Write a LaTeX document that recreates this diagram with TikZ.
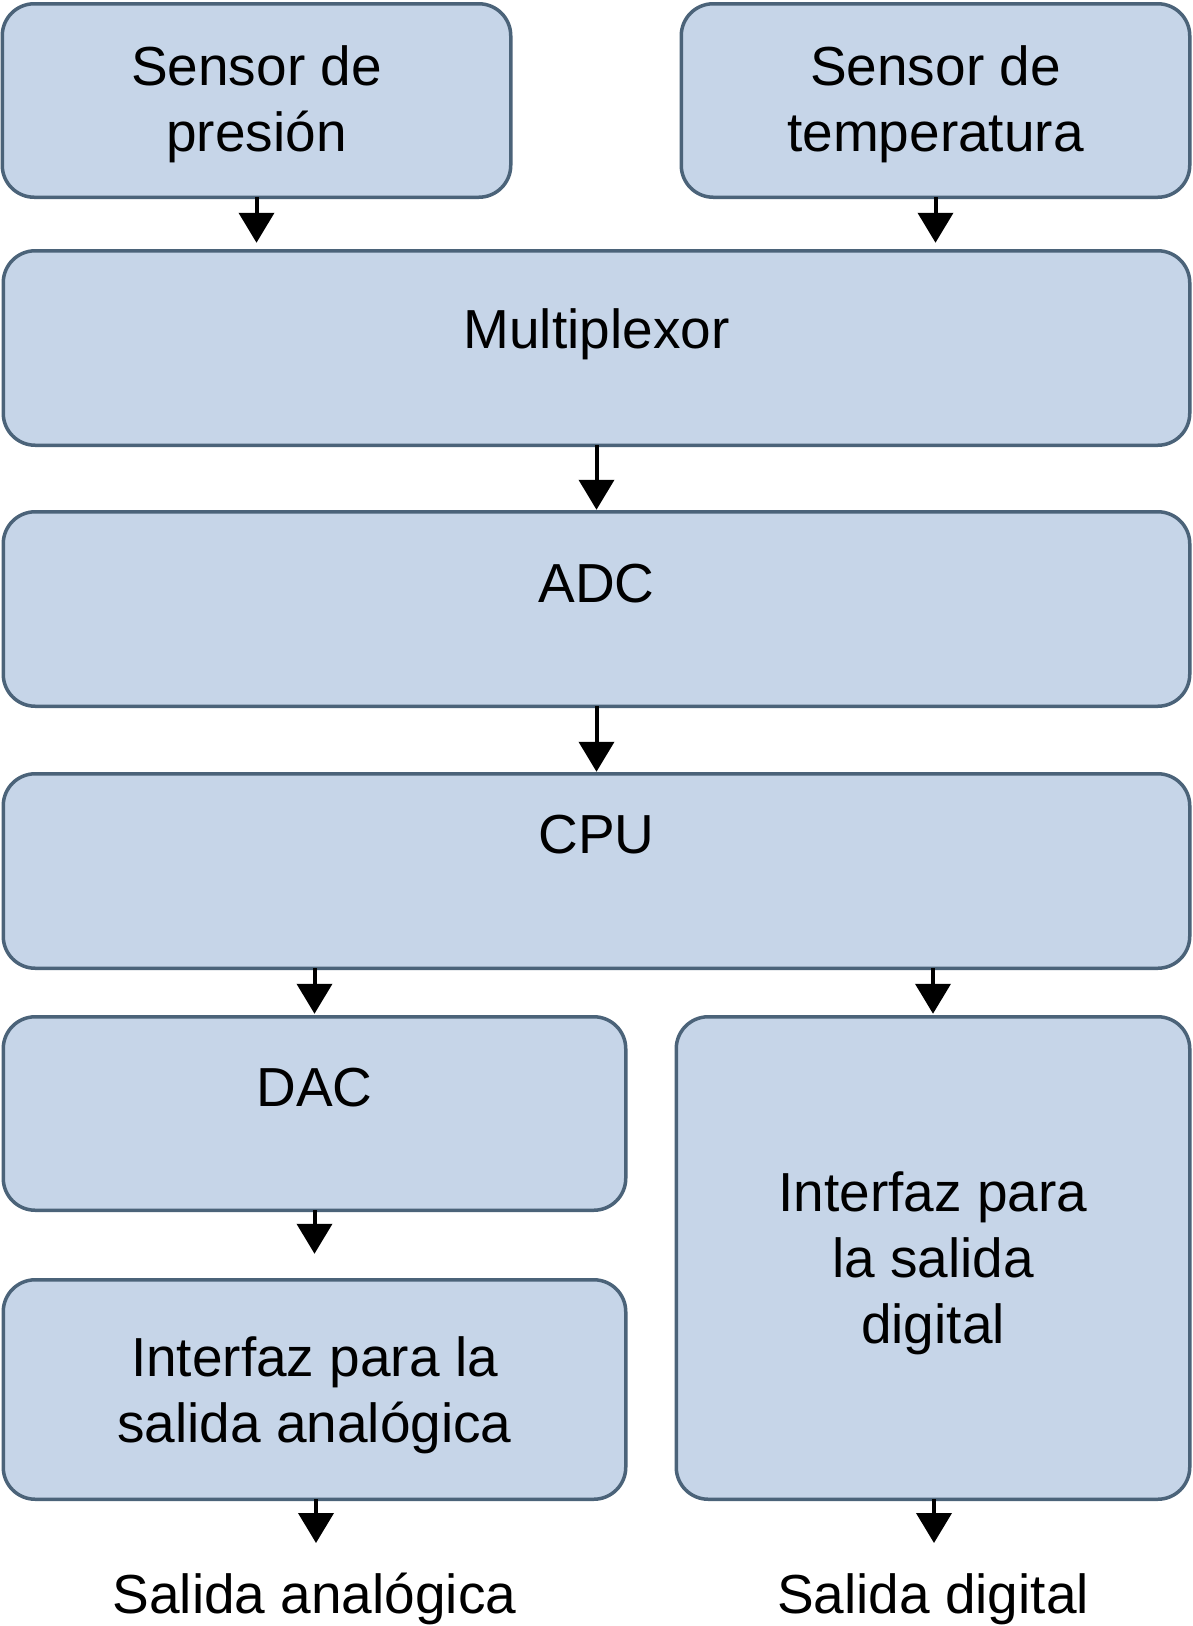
\documentclass[tikz,border=0pt]{standalone}
\usepackage{fontspec}
\setmainfont{Liberation Sans}
\usetikzlibrary{arrows.meta}
\definecolor{boxfill}{HTML}{C6D5E8}
\definecolor{boxdraw}{HTML}{4B6379}
\begin{document}
\begin{tikzpicture}[x=1pt,y=-1pt,
  box/.style={draw=boxdraw, fill=boxfill, line width=3.5pt, rounded corners=32pt, inner sep=0pt, outer sep=0pt},
  lbl/.style={font=\fontsize{55}{66}\selectfont, align=center, inner sep=0pt, anchor=base},
  flow/.style={line width=4pt, -{Triangle[length=30pt,width=35pt]}}]
\useasboundingbox (0,0) rectangle (1193,1626);
% boxes
\node[box, minimum width=508.5pt, minimum height=193.5pt] (pres) at (256.5,100.5) {};
\node[box, minimum width=508.5pt, minimum height=193.5pt] (temp) at (935.5,100.5) {};
\node[box, minimum width=1186.5pt, minimum height=194.5pt] (mux) at (596.5,348) {};
\node[box, minimum width=1186.5pt, minimum height=194.5pt] (adc) at (596.5,609) {};
\node[box, minimum width=1186.5pt, minimum height=194.5pt] (cpu) at (596.5,871) {};
\node[box, minimum width=622.5pt, minimum height=193.5pt] (dac) at (314.5,1113.5) {};
\node[box, minimum width=622.5pt, minimum height=219.5pt] (ana) at (314.5,1389.5) {};
\node[box, minimum width=513.5pt, minimum height=482.5pt] (dig) at (933,1258) {};
% labels (base anchor = baseline of last line)
\node[lbl] (presT) at (256.5,151) {Sensor de\\presión};
\node[lbl] (tempT) at (935.5,151) {Sensor de\\temperatura};
\node[lbl] (muxT) at (596.5,348) {Multiplexor};
\node[lbl] (adcT) at (596.5,602) {ADC};
\node[lbl] (cpuT) at (596.5,853) {CPU};
\node[lbl] (dacT) at (314.5,1106) {DAC};
\node[lbl] (anaT) at (314.5,1442) {Interfaz para la\\salida analógica};
\node[lbl] (digT) at (933,1343) {Interfaz para\\la salida\\digital};
\node[lbl] (outAT) at (314.5,1613) {Salida analógica};
\node[lbl] (outDT) at (933,1613) {Salida digital};
\coordinate (outA) at (316,1543);
\coordinate (outD) at (934,1543);
% connectors
\draw[flow, shorten >=8pt] (pres.south) -- (pres.south |- mux.north);
\draw[flow, shorten >=8pt] (temp.south) -- (temp.south |- mux.north);
\draw[flow, shorten >=2pt] (mux.south) -- (adc.north);
\draw[flow, shorten >=2pt] (adc.south) -- (cpu.north);
\draw[flow, shorten >=3pt] (dac.north |- cpu.south) -- (dac.north);
\draw[flow, shorten >=3pt] (dig.north |- cpu.south) -- (dig.north);
\draw[flow, shorten >=26pt] (dac.south) -- (ana.north);
\draw[flow] (ana.south -| outA) -- (outA);
\draw[flow] (dig.south -| outD) -- (outD);
\end{tikzpicture}
\end{document}
